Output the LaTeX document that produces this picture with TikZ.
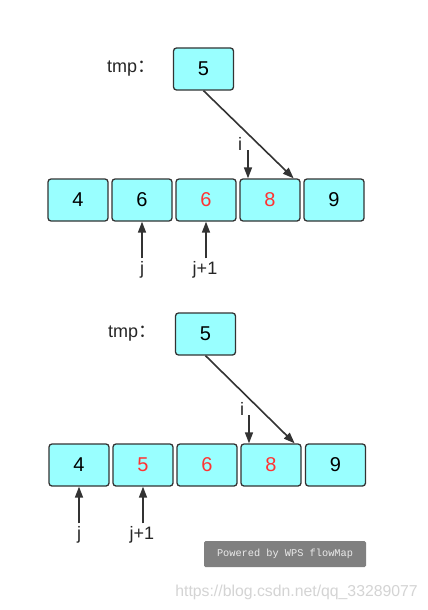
\documentclass[tikz,border=0pt]{standalone}
\usepackage{fontspec}
\setmainfont{Liberation Sans}
\newfontfamily\cjk{Noto Sans CJK SC}
\newfontfamily\monof{Liberation Mono}
\usetikzlibrary{positioning, arrows.meta, calc}

\definecolor{cellfill}{HTML}{99FFFF}
\definecolor{celldraw}{HTML}{333333}
\definecolor{hotred}{HTML}{FF3333}
\definecolor{ptrgray}{HTML}{333333}
\definecolor{badgegray}{HTML}{808080}
\definecolor{markgray}{HTML}{D4D4D4}

\begin{document}
\begin{tikzpicture}[
    x=1pt, y=-1pt,
    cell/.style={draw=celldraw, fill=cellfill, rounded corners=3pt, line width=1.3pt, minimum width=60pt, minimum height=42pt, inner sep=0pt, font=\fontsize{20}{24}\selectfont},
    hot/.style={cell, text=hotred},
    lbl/.style={inner sep=0pt, font=\fontsize{18}{22}\selectfont, text=black!85},
    ptr/.style={draw=ptrgray, line width=1.6pt, -{Triangle[length=11pt,width=8pt]}}
]
    \useasboundingbox[fill=white] (0,0) rectangle (428,610);

    % ================= FIRST STEP =================
    \node[lbl, anchor=west] (tmpLblA) at (107,69) {tmp{\cjk ：}};
    \node[cell] (tmpA) at (203.5,69) {5};

    \node[cell] (a1) at (78,200)  {4};
    \node[cell] (a2) at (142,200) {6};
    \node[hot]  (a3) at (206,200) {6};
    \node[hot]  (a4) at (270,200) {8};
    \node[cell] (a5) at (334,200) {9};

    % tmp -> slot
    \draw[ptr] (tmpA.south) -- ([xshift=-7pt]a4.north east);

    % i pointer
    \node[lbl] (iA) at (240,144) {i};
    \coordinate (iTopA) at (248,150);
    \draw[ptr] (iTopA) -- (iTopA |- a4.north);

    % j pointers
    \node[lbl] (jA)  at (142,270) {j};
    \node[lbl] (j1A) at (205,270) {j+1};
    \draw[ptr] ([yshift=3pt]jA.north) -- (a2.south);
    \draw[ptr] ([yshift=3pt]a3.south |- j1A.north) -- (a3.south);

    % ================= SECOND STEP =================
    \node[lbl, anchor=west] (tmpLblB) at (108,334) {tmp{\cjk ：}};
    \node[cell] (tmpB) at (205.5,334) {5};

    \node[cell] (b1) at (79,465)    {4};
    \node[hot]  (b2) at (143,465)   {5};
    \node[hot]  (b3) at (207,465)   {6};
    \node[hot]  (b4) at (271,465)   {8};
    \node[cell] (b5) at (335.5,465) {9};

    % tmp -> slot
    \draw[ptr] (tmpB.south) -- ([xshift=-7pt]b4.north east);

    % i pointer
    \node[lbl] (iB) at (242,409) {i};
    \coordinate (iTopB) at (249,415);
    \draw[ptr] (iTopB) -- (iTopB |- b4.north);

    % j pointers
    \node[lbl] (jB)  at (79,535)  {j};
    \node[lbl] (j1B) at (142,535) {j+1};
    \draw[ptr] ([yshift=3pt]jB.north) -- (b1.south);
    \draw[ptr] ([yshift=3pt]b2.south |- j1B.north) -- (b2.south);

    % ================= BADGE AND WATERMARK =================
    \node[fill=badgegray, rounded corners=1.5pt, minimum width=162pt, minimum height=26pt, inner sep=0pt, text=white!92!black, font=\monof\fontsize{10.3}{12}\selectfont] (badge) at (285,554) {Powered by WPS flowMap};
    \node[inner sep=0pt, anchor=east, text=markgray, font=\fontsize{15.8}{18}\selectfont] (mark) at (418,592) {https://blog.csdn.net/qq\_33289077};

\end{tikzpicture}
\end{document}
